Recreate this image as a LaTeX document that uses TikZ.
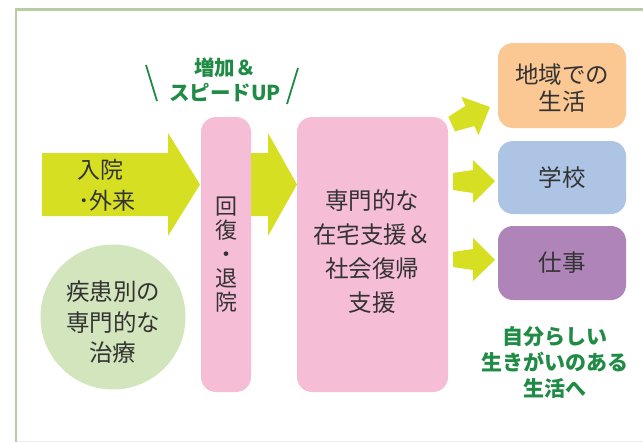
\documentclass[tikz,border=0pt]{standalone}
\usepackage{fontspec}
\setmainfont{Noto Sans CJK JP}
\definecolor{arrowc}{HTML}{D6DF22}
\definecolor{pinkc}{HTML}{F6BDD6}
\definecolor{circc}{HTML}{D2E5BC}
\definecolor{orangec}{HTML}{FBC793}
\definecolor{bluec}{HTML}{AEC4E4}
\definecolor{purplec}{HTML}{AF85B9}
\definecolor{greentxt}{HTML}{1F8B45}
\definecolor{txt}{HTML}{333333}
\definecolor{framec}{HTML}{B7CDA2}
\tikzset{
  blockarrow/.style={fill=arrowc, draw=none},
  pinkbox/.style={fill=pinkc, draw=none, rounded corners=15pt},
  rbox/.style={draw=none, rounded corners=15pt},
  maintext/.style={text=txt, align=center, inner sep=0pt},
  greentext/.style={text=greentxt, align=center, inner sep=0pt, font=\bfseries\fontsize{20.5}{24.5}\selectfont},
}
\begin{document}
\begin{tikzpicture}[x=1pt,y=-1pt]
\useasboundingbox (0,0) rectangle (643,442);
\fill[white] (0,0) rectangle (643,442);
% frame
\draw[framec, line width=2.6pt] (16,442) -- (16,9.5) -- (643,9.5);
\draw[black!7, line width=0.8pt] (17,441.5) -- (643,441.5);

% pink boxes
\fill[pinkbox] (201,117) rectangle (251,392);
\fill[pinkbox] (297,117) rectangle (448,392);
\coordinate (pill) at (226,254.5);
\coordinate (bigbox) at (372.5,254.5);

% big arrows
\fill[blockarrow] (42,153) -- (168,153) -- (168,133) -- (200,184.5) -- (168,236) -- (168,216) -- (42,216) -- cycle;
\fill[blockarrow] (251,153) -- (268,153) -- (268,133) -- (297,184.5) -- (268,236) -- (268,216) -- (251,216) -- cycle;

% circle
\fill[circc] (113,317) circle (72.5);
\coordinate (circ) at (113,317);

% right boxes
\fill[rbox, fill=orangec] (498,43) rectangle (626,128);
\fill[rbox, fill=bluec] (498,141) rectangle (626,214);
\fill[rbox, fill=purplec] (498,226) rectangle (626,300);

% small arrows
\fill[blockarrow] (448.4,116.8) -- (465.4,105.9) -- (461.4,96.8) -- (490,107) -- (478.4,135.1) -- (474.4,126) -- (454.9,131.4) -- cycle;
\fill[blockarrow] (453,173) -- (473,170) -- (473,160) -- (495,181) -- (473,203) -- (473,193) -- (453,190) -- cycle;
\fill[blockarrow] (453,252) -- (473,249) -- (473,238) -- (495,260) -- (473,281) -- (473,270) -- (453,267) -- cycle;

% texts
\node[maintext, align=left, anchor=west, font=\fontsize{23}{31}\selectfont] (nyuin) at (77,185.5) {入院\\[-0pt]\kern1pt･外来};
\node[maintext, font=\fontsize{22}{24.2}\selectfont] (kaifuku) at (pill) {回\\復\\・\\退\\院};
\node[maintext, font=\fontsize{23.5}{34}\selectfont] (zaitaku) at (372,252) {専門的な\\在宅支援＆\\社会復帰\\支援};
\node[maintext, font=\fontsize{23.5}{30.5}\selectfont] (shikkan) at (113,322.5) {疾患別の\\専門的な\\治療};
\node[maintext, font=\fontsize{23.5}{27.5}\selectfont] (chiiki) at (562,88) {地域での\\生活};
\node[maintext, font=\fontsize{23.5}{28}\selectfont] (gakko) at (562,178) {学校};
\node[maintext, font=\fontsize{23.5}{28}\selectfont] (shigoto) at (562,263) {仕事};

\node[greentext] (zoka) at (225,80) {増加＆\\スピードUP};
\draw[greentxt, line width=1.8pt] (146,65) -- (157,101);
\draw[greentxt, line width=1.8pt] (298,68) -- (287,104);
\node[greentext, font=\bfseries\fontsize{21}{26}\selectfont] (jibun) at (555,362) {自分らしい\\生きがいのある\\生活へ};
\end{tikzpicture}
\end{document}
